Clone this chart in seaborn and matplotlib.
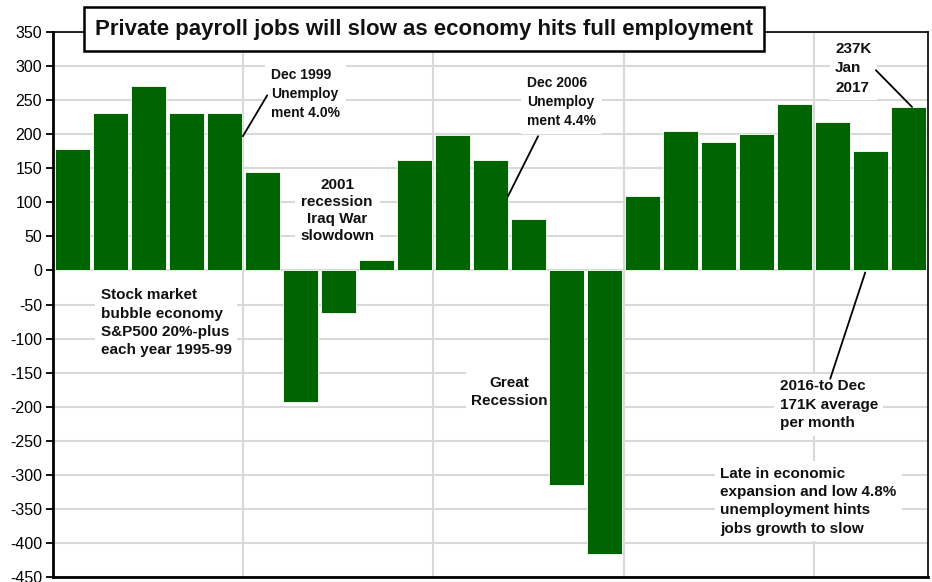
import matplotlib
matplotlib.use("Agg")
import matplotlib.pyplot as plt
import seaborn as sns
import pandas as pd

years = [str(y) for y in range(1995, 2018)]
jobs = [178, 231, 271, 231, 231, 144, -193, -63, 16, 162, 199, 162, 76,
        -315, -416, 110, 204, 188, 201, 244, 218, 175, 240]
yticks = list(range(-450, 351, 50))
title = "Private payroll jobs will slow as economy hits full employment"

sns.set_theme(style="white")
plt.rcParams['font.family'] = ['Liberation Sans', 'DejaVu Sans']
plt.rcParams['axes.unicode_minus'] = False

df = pd.DataFrame({"year": years, "jobs": jobs})

fig = plt.figure(figsize=(9.32, 5.82), dpi=100)
ax = fig.add_axes([0.0569, 0.0086, 0.9388, 0.9364])

sns.barplot(data=df, x="year", y="jobs", color="#006400", saturation=1,
            width=0.92, edgecolor="white", linewidth=0.6, ax=ax, zorder=3)

ax.set_xlim(-0.5, len(years) - 0.5)
ax.set_ylim(-450, 350)
ax.set_yticks(yticks)
ax.set_yticklabels([str(v) for v in yticks], fontsize=11.5)
ax.set_xticks([4.5, 9.5, 14.5, 19.5])
ax.set_xticklabels([])
ax.set_xlabel("")
ax.set_ylabel("")
ax.grid(True, color="#d9d9d9", linewidth=1.5, zorder=0)
ax.set_axisbelow(True)
ax.tick_params(axis="y", direction="out", length=5, width=1.3, color="black",
               left=True, pad=3, labelcolor="black")
ax.tick_params(axis="x", length=0)
for s in ["left", "bottom"]:
    ax.spines[s].set_linewidth(2.0)
    ax.spines[s].set_color("black")
for s in ["right", "top"]:
    ax.spines[s].set_linewidth(1.2)
    ax.spines[s].set_color("black")

box = dict(facecolor="white", edgecolor="none", pad=4)
tkw = dict(fontsize=10, fontweight="bold", color="#111111", zorder=2,
           linespacing=1.45, bbox=box)
line = dict(arrowstyle="-", color="black", lw=1.3, shrinkA=0, shrinkB=0)

ax.text(5.23, 297, "Dec 1999\nUnemploy\nment 4.0%", ha="left", va="top", **tkw)
ax.annotate("", xy=(4.49, 197), xytext=(5.13, 257), arrowprops=line, zorder=6)

ax.text(6.97, 88, "2001\nrecession\nIraq War\nslowdown", ha="center", va="center",
        **{**tkw, "fontsize": 11, "linespacing": 1.3})

ax.text(11.96, 285, "Dec 2006\nUnemploy\nment 4.4%", ha="left", va="top", **tkw)
ax.annotate("", xy=(11.46, 109), xytext=(12.25, 197), arrowprops=line, zorder=6)

ax.text(0.76, -26, "Stock market\nbubble economy\nS&P500 20%-plus\neach year 1995-99",
        ha="left", va="top", **{**tkw, "fontsize": 11, "linespacing": 1.4})

ax.text(11.5, -179, "Great\nRecession", ha="center", va="center",
        **{**tkw, "fontsize": 11, "linespacing": 1.35})

ax.text(18.6, -160, "2016-to Dec\n171K average\nper month", ha="left", va="top",
        **{**tkw, "fontsize": 11, "linespacing": 1.4})
ax.annotate("", xy=(20.85, -3), xytext=(19.93, -159), arrowprops=line, zorder=6)

ax.text(17.04, -288, "Late in economic\nexpansion and low 4.8%\nunemployment hints\njobs growth to slow",
        ha="left", va="top", **{**tkw, "fontsize": 11, "linespacing": 1.4})

ax.text(20.06, 336, "237K\nJan\n2017", ha="left", va="top",
        **{**tkw, "fontsize": 11, "linespacing": 1.5})
ax.annotate("", xy=(22.08, 240), xytext=(21.13, 294), arrowprops=line, zorder=6)

fig.text(0.455, 0.950, title, ha="center", va="center", fontsize=16,
         fontweight="bold", color="#111111", zorder=10,
         bbox=dict(facecolor="white", edgecolor="black", linewidth=1.8,
                   boxstyle="square,pad=0.5"))

fig.savefig("out.png", dpi=100)
